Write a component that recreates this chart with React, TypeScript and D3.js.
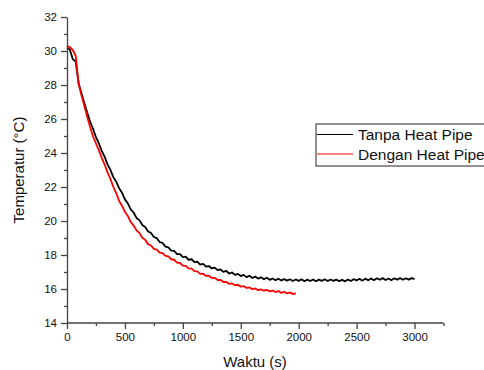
import { useEffect, useRef } from "react";
import * as d3 from "d3";

// time axis samples (s), every 25 s
const blackTimes = d3.range(0, 3001, 25);
const redTimes = d3.range(0, 1976, 25);

// Tanpa Heat Pipe (black)
const tanpaTemps = [
  30.2, 30.08, 29.52, 29.38, 28.1, 27.52, 26.93, 26.37, 25.83, 25.42,
  24.93, 24.57, 24.12, 23.78, 23.33, 23.01, 22.58, 22.31, 21.92, 21.66,
  21.27, 21.04, 20.68, 20.5, 20.18, 20.05, 19.76, 19.65, 19.38, 19.3,
  19.06, 18.99, 18.76, 18.71, 18.49, 18.45, 18.26, 18.24, 18.05, 18.05,
  17.88, 17.9, 17.72, 17.75, 17.58, 17.61, 17.44, 17.48, 17.32, 17.35,
  17.21, 17.26, 17.11, 17.15, 17.01, 17.06, 16.91, 16.97, 16.83, 16.89,
  16.76, 16.83, 16.7, 16.78, 16.65, 16.73, 16.61, 16.69, 16.57, 16.66,
  16.54, 16.62, 16.52, 16.6, 16.5, 16.58, 16.49, 16.57, 16.47, 16.56,
  16.48, 16.57, 16.46, 16.55, 16.47, 16.56, 16.46, 16.55, 16.48, 16.57,
  16.47, 16.56, 16.48, 16.55, 16.46, 16.54, 16.45, 16.56, 16.47, 16.58,
  16.5, 16.6, 16.49, 16.61, 16.51, 16.62, 16.52, 16.63, 16.54, 16.64,
  16.53, 16.62, 16.52, 16.63, 16.55, 16.64, 16.54, 16.63, 16.55, 16.64,
  16.58,
];

// Dengan Heat Pipe (red)
const denganTemps = [
  30.3, 30.22, 30.06, 29.72, 28.08, 27.38, 26.76, 26.12, 25.52, 24.97,
  24.56, 24.17, 23.71, 23.32, 22.86, 22.47, 22.01, 21.64, 21.18, 20.9,
  20.54, 20.3, 19.94, 19.73, 19.45, 19.3, 19.02, 18.89, 18.64, 18.56,
  18.36, 18.32, 18.14, 18.11, 17.95, 17.92, 17.75, 17.72, 17.55, 17.53,
  17.37, 17.36, 17.21, 17.2, 17.05, 17.04, 16.89, 16.9, 16.77, 16.78,
  16.65, 16.66, 16.53, 16.54, 16.41, 16.42, 16.3, 16.33, 16.22, 16.25,
  16.14, 16.17, 16.06, 16.09, 15.99, 16.03, 15.93, 15.98, 15.9, 15.95,
  15.86, 15.91, 15.82, 15.88, 15.77, 15.84, 15.74, 15.8, 15.7, 15.76,
];

const xMajor = [0, 500, 1000, 1500, 2000, 2500, 3000];
const xMinor = [250, 750, 1250, 1750, 2250, 2750, 3250];
const yMajor = [14, 16, 18, 20, 22, 24, 26, 28, 30, 32];
const yMinor = [15, 17, 19, 21, 23, 25, 27, 29, 31];

const seriesNames = ["Tanpa Heat Pipe", "Dengan Heat Pipe"];
const seriesColors = ["#000000", "#ff0000"];

const FONT = "'Liberation Sans', Arial, sans-serif";

const App = () => {
  const svgRef = useRef(null);

  useEffect(() => {
    const svg = d3.select(svgRef.current);
    svg.selectAll("*").remove();

    const x = d3.scaleLinear().domain([0, 3250]).range([67, 443.5]);
    const y = d3.scaleLinear().domain([14, 32]).range([323, 17]);
    const axisColor = "#444";

    // lines
    const line = d3
      .line()
      .x((d) => x(d[0]))
      .y((d) => y(d[1]));

    const series = [
      blackTimes.map((t, i) => [t, tanpaTemps[i]]),
      redTimes.map((t, i) => [t, denganTemps[i]]),
    ];

    svg
      .selectAll(".series")
      .data(series)
      .enter()
      .append("path")
      .attr("class", "series")
      .attr("d", (d) => line(d))
      .attr("fill", "none")
      .attr("stroke", (d, i) => seriesColors[i])
      .attr("stroke-width", 1.8)
      .attr("stroke-linejoin", "round");

    // x axis
    const gx = svg.append("g").attr("transform", "translate(0,323)");
    gx.call(
      d3.axisBottom(x).tickValues(xMinor).tickSize(3).tickSizeOuter(0).tickFormat(() => "")
    );
    gx.call((g) => g.select(".domain").remove());
    const gx2 = svg.append("g").attr("transform", "translate(0,323)");
    gx2.call(
      d3
        .axisBottom(x)
        .tickValues(xMajor)
        .tickSize(6)
        .tickSizeOuter(0)
        .tickPadding(4)
        .tickFormat(d3.format("d"))
    );
    gx2.select(".domain").attr("d", `M${x(0)},0H${x(3250)}`);

    // y axis
    const gy = svg.append("g").attr("transform", "translate(67,0)");
    gy.call(
      d3.axisLeft(y).tickValues(yMinor).tickSize(3).tickSizeOuter(0).tickFormat(() => "")
    );
    gy.call((g) => g.select(".domain").remove());
    const gy2 = svg.append("g").attr("transform", "translate(67,0)");
    gy2.call(
      d3
        .axisLeft(y)
        .tickValues(yMajor)
        .tickSize(6)
        .tickSizeOuter(0)
        .tickPadding(4)
        .tickFormat(d3.format("d"))
    );

    svg
      .selectAll(".domain, .tick line")
      .attr("stroke", axisColor)
      .attr("stroke-width", 1.3);
    svg
      .selectAll(".tick text")
      .attr("fill", "#111")
      .style("font-family", FONT)
      .style("font-size", "11.5px");

    // axis titles
    svg
      .append("text")
      .attr("x", 255)
      .attr("y", 367)
      .attr("text-anchor", "middle")
      .attr("fill", "#111")
      .style("font-family", FONT)
      .style("font-size", "15px")
      .text("Waktu (s)");

    svg
      .append("text")
      .attr("transform", "translate(24,170) rotate(-90)")
      .attr("text-anchor", "middle")
      .attr("fill", "#111")
      .style("font-family", FONT)
      .style("font-size", "15px")
      .text("Temperatur (°C)");

    // legend
    const lg = svg.append("g").attr("transform", "translate(316,124)");
    lg.append("rect")
      .attr("x", 0)
      .attr("y", 0)
      .attr("width", 200)
      .attr("height", 42)
      .attr("fill", "white")
      .attr("stroke", "#222")
      .attr("stroke-width", 1);
    seriesNames.forEach((name, i) => {
      const yy = 10.5 + i * 19.5;
      lg.append("line")
        .attr("x1", 1)
        .attr("x2", 37)
        .attr("y1", yy)
        .attr("y2", yy)
        .attr("stroke", seriesColors[i])
        .attr("stroke-width", 1);
      lg.append("text")
        .attr("x", 42)
        .attr("y", yy + 5.5)
        .attr("fill", "#111")
        .style("font-family", FONT)
        .style("font-size", "15.5px")
        .text(name);
    });
  }, []);

  return (
    <div>
      <svg
        ref={svgRef}
        width={484}
        height={370}
        style={{ position: "absolute", left: 0, top: 0, background: "white" }}
      ></svg>
    </div>
  );
};

export default App;
